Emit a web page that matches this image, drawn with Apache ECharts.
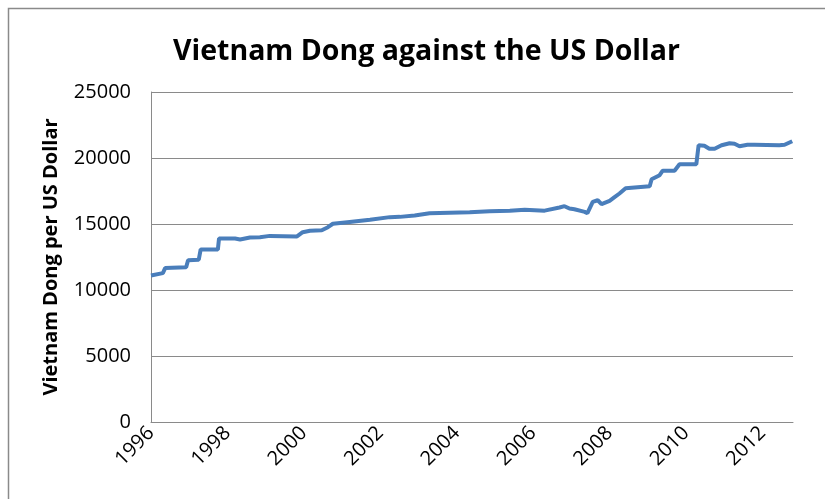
<!DOCTYPE html>
<html>
<head>
<meta charset="utf-8">
<script src="https://cdn.jsdelivr.net/npm/echarts@6/dist/echarts.min.js"></script>
<style>
  html, body { margin: 0; padding: 0; background: #fff; }
  #chart { width: 825px; height: 499px; }
</style>
</head>
<body>
<div id="chart"></div>
<script>
  // x position as fractional year
  const years = [
    1996.00, 1996.31, 1996.35, 1996.37, 1996.92, 1996.95, 1996.97, 1997.25, 1997.28, 1997.30,
    1997.75, 1997.77, 1997.78, 1998.20, 1998.33, 1998.59, 1998.85, 1999.11, 1999.82, 1999.97,
    2000.16, 2000.47, 2000.63, 2000.76, 2001.20, 2001.73, 2002.25, 2002.51, 2002.90, 2003.29,
    2004.34, 2004.86, 2005.39, 2005.78, 2006.30, 2006.69, 2006.82, 2006.95, 2007.08, 2007.35,
    2007.42, 2007.56, 2007.69, 2007.79, 2008.00, 2008.13, 2008.26, 2008.42, 2009.05, 2009.10,
    2009.31, 2009.39, 2009.70, 2009.83, 2010.27, 2010.31, 2010.33, 2010.48, 2010.61, 2010.75,
    2010.93, 2011.14, 2011.27, 2011.40, 2011.61, 2011.79, 2012.44, 2012.58, 2012.78
  ]
  // dong per US dollar
  const rates = [
    11100, 11280, 11280, 11660, 11730, 11730, 12260, 12300, 12300, 13070,
    13070, 13070, 13900, 13900, 13830, 13980, 14000, 14100, 14060, 14380,
    14490, 14530, 14760, 15020, 15160, 15330, 15520, 15540, 15640, 15820,
    15890, 15970, 16010, 16080, 16010, 16250, 16350, 16170, 16120, 15920,
    15820, 16670, 16800, 16500, 16750, 17030, 17310, 17710, 17860, 18390,
    18700, 19040, 19040, 19530, 19530, 19530, 20970, 20930, 20700, 20700,
    20970, 21120, 21080, 20890, 21000, 21000, 20970, 21000, 21270
  ]
  const yearTicks = [1996, 1998, 2000, 2002, 2004, 2006, 2008, 2010, 2012]

  const chart = echarts.init(document.getElementById('chart'))
  const font = '"Open Sans", Lato, sans-serif'

  chart.setOption({
    animation: false,
    title: {
      text: 'Vietnam Dong against the US Dollar',
      left: 168,
      top: 32,
      textStyle: {
        fontFamily: font,
        fontWeight: 'bold',
        fontSize: 28.5,
        color: '#000'
      }
    },
    graphic: [{
      type: 'rect',
      shape: { x: 8.5, y: 8.5, width: 840, height: 520 },
      style: { fill: 'none', stroke: '#8a8a8a', lineWidth: 1.5 },
      silent: true
    }],
    grid: {
      left: 151,
      right: 32,
      top: 92,
      bottom: 77
    },
    xAxis: {
      type: 'value',
      min: 1996,
      max: 2012.8,
      interval: 2,
      axisLine: { lineStyle: { color: '#8a8a8a', width: 1 } },
      axisTick: { show: false },
      splitLine: { show: false },
      axisLabel: {
        rotate: 45,
        margin: 8,
        color: '#000',
        fontFamily: font,
        fontSize: 20,
        showMaxLabel: false,
        formatter: v => yearTicks.indexOf(v) !== -1 ? String(v) : ''
      }
    },
    yAxis: {
      type: 'value',
      min: 0,
      max: 25000,
      interval: 5000,
      name: 'Vietnam Dong per US Dollar',
      nameLocation: 'middle',
      nameGap: 90,
      nameTextStyle: {
        fontFamily: font,
        fontWeight: 'bold',
        fontSize: 20,
        color: '#000'
      },
      axisLine: { show: true, lineStyle: { color: '#8a8a8a', width: 1 } },
      axisTick: { show: false },
      splitLine: { lineStyle: { color: '#8a8a8a', width: 1 } },
      axisLabel: {
        margin: 20,
        color: '#000',
        fontFamily: font,
        fontSize: 20,
        formatter: v => String(v)
      }
    },
    series: [{
      type: 'line',
      data: years.map((y, i) => [y, rates[i]]),
      showSymbol: false,
      lineStyle: { color: '#4a7ebb', width: 4 },
      itemStyle: { color: '#4a7ebb' }
    }]
  })
</script>
</body>
</html>
